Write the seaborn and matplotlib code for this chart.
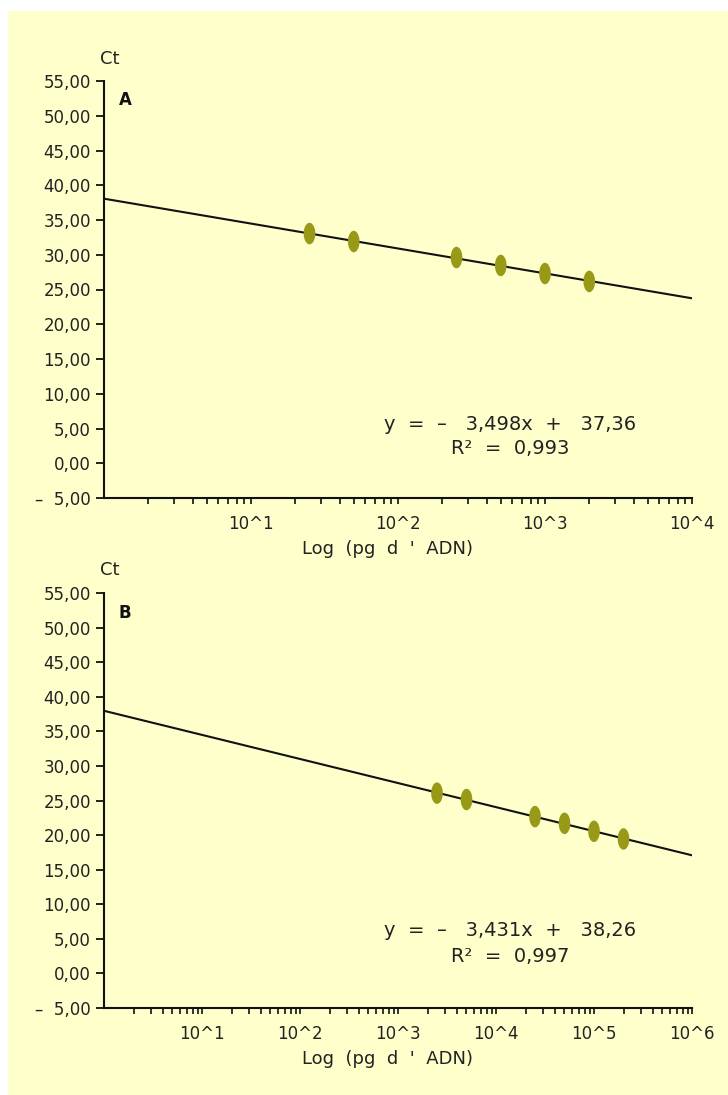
import numpy as np
import pandas as pd
import matplotlib
matplotlib.use("Agg")
import matplotlib.pyplot as plt
import seaborn as sns
from matplotlib.path import Path
from matplotlib.patches import Rectangle
from matplotlib.ticker import FixedLocator, FixedFormatter, LogLocator, NullFormatter

# ---------------- data ----------------
dna_a = [25, 50, 250, 500, 1000, 2000]            # pg d'ADN, panel A
ct_a = [33.05, 31.9, 29.6, 28.46, 27.3, 26.16]
dna_b = [2500, 5000, 25000, 50000, 100000, 200000]  # panel B
ct_b = [26.06, 25.14, 22.67, 21.7, 20.55, 19.44]

eq_a = "y  =  \u2013   3,498x  +   37,36"
r2_a = "R\u00b2  =  0,993"
eq_b = "y  =  \u2013   3,431x  +   38,26"
r2_b = "R\u00b2  =  0,997"

y_ticks = [-5, 0, 5, 10, 15, 20, 25, 30, 35, 40, 45, 50, 55]
y_tick_labels = ["\u2013  5,00", "0,00", "5,00", "10,00", "15,00", "20,00", "25,00",
                 "30,00", "35,00", "40,00", "45,00", "50,00", "55,00"]
x_ticks_a = [10, 100, 1000, 10000]
x_tick_labels_a = ["10^1", "10^2", "10^3", "10^4"]
x_ticks_b = [10, 100, 1000, 10000, 100000, 1000000]
x_tick_labels_b = ["10^1", "10^2", "10^3", "10^4", "10^5", "10^6"]
x_label = "Log  (pg  d  '  ADN)"
y_label = "Ct"
panel_labels = ["A", "B"]

df_a = pd.DataFrame({"dna": dna_a, "ct": ct_a})
df_b = pd.DataFrame({"dna": dna_b, "ct": ct_b})

# ---------------- style ----------------
sns.set_theme(style="ticks")
plt.rcParams["font.family"] = ["DejaVu Sans"]
TXT = "#222222"
BG = "#FFFFCC"
DOT = "#999918"

W, H, DPI = 728, 1095, 100
fig = plt.figure(figsize=(W / DPI, H / DPI), dpi=DPI, facecolor="white")
fig.patches.append(Rectangle((8 / W, 0), 1 - 8 / W, 1 - 11 / H, transform=fig.transFigure,
                             facecolor=BG, edgecolor="none", zorder=-10))

# elliptical vertical marker
t = np.linspace(0, 2 * np.pi, 60)
ell = Path(np.column_stack([0.27 * np.cos(t), 0.5 * np.sin(t)]), closed=True)


def px_rect(left, right, top, bottom):
    return [left / W, 1 - bottom / H, (right - left) / W, (bottom - top) / H]


def draw_panel(rect, df, xmax, xticks, xticklabels, eq, r2, eq_y, r2_y, ct_y, lab, lab_y):
    ax = fig.add_axes(rect)
    ax.set_facecolor("none")
    ax.set_xscale("log")
    ax.set_xlim(1, xmax)
    ax.set_ylim(-5, 55)
    sns.regplot(data=df, x="dna", y="ct", logx=True, ci=None, truncate=False,
                scatter=False, ax=ax, line_kws=dict(color="#111111", lw=1.5))
    sns.scatterplot(data=df, x="dna", y="ct", ax=ax, marker=ell, s=240,
                    color=DOT, edgecolor="none", zorder=5)
    ax.set_xlim(1, xmax)
    ax.set_ylim(-5, 55)
    for s in ["top", "right"]:
        ax.spines[s].set_visible(False)
    for s in ["left", "bottom"]:
        ax.spines[s].set_linewidth(1.5)
        ax.spines[s].set_color("#111111")
    ax.yaxis.set_major_locator(FixedLocator(y_ticks))
    ax.yaxis.set_major_formatter(FixedFormatter(y_tick_labels))
    ax.xaxis.set_major_locator(FixedLocator(xticks))
    ax.xaxis.set_major_formatter(FixedFormatter(xticklabels))
    ax.xaxis.set_minor_locator(LogLocator(base=10, subs=np.arange(2, 10), numticks=100))
    ax.xaxis.set_minor_formatter(NullFormatter())
    ax.tick_params(axis="y", which="major", direction="out", length=6, width=1.3,
                   color="#111111", pad=3.5, labelsize=12, labelcolor=TXT)
    ax.tick_params(axis="x", which="both", direction="out", length=4, width=1.2,
                   color="#111111", pad=8, labelsize=12, labelcolor=TXT)
    ax.set_xlabel(x_label, fontsize=13, color=TXT)
    ax.set_ylabel("")
    ax.xaxis.set_label_coords((388 - 104) / 588, -0.10)
    ax.text(0.69, eq_y, eq, transform=ax.transAxes, ha="center", va="center",
            fontsize=14, color=TXT)
    ax.text(0.69, r2_y, r2, transform=ax.transAxes, ha="center", va="center",
            fontsize=14, color=TXT)
    fig.text(110 / W, 1 - ct_y / H, y_label, ha="center", va="center", fontsize=13, color=TXT)
    fig.text(125 / W, 1 - lab_y / H, lab, ha="center", va="center", fontsize=12,
             fontweight="bold", color="#111111")
    return ax


ax1 = draw_panel(px_rect(104, 692, 81, 498), df_a, 1e4, x_ticks_a, x_tick_labels_a,
                 eq_a, r2_a, (498 - 425) / 417, (498 - 449) / 417, 59, panel_labels[0], 100)
ax2 = draw_panel(px_rect(104, 692, 593, 1008), df_b, 1e6, x_ticks_b, x_tick_labels_b,
                 eq_b, r2_b, (1008 - 930) / 415, (1008 - 957) / 415, 570, panel_labels[1], 613)

fig.savefig("out.png", dpi=DPI, facecolor=fig.get_facecolor())
